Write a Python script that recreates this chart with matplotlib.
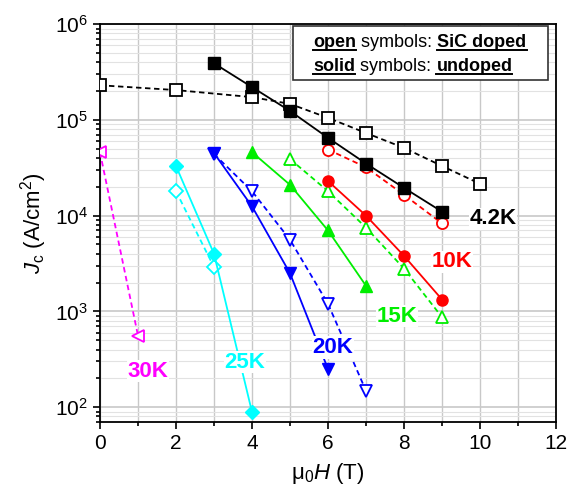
import numpy as np
import matplotlib
matplotlib.use("Agg")
from matplotlib import pyplot as plt
from matplotlib.patches import Rectangle
from matplotlib.ticker import MultipleLocator, LogLocator, NullFormatter

plt.rcParams['font.family'] = ['Liberation Sans', 'DejaVu Sans']
plt.rcParams['mathtext.fontset'] = 'custom'
plt.rcParams['mathtext.rm'] = 'Liberation Sans'
plt.rcParams['mathtext.it'] = 'Liberation Sans:italic'

# undoped (solid symbols)
h_42 = [3, 4, 5, 6, 7, 8, 9]
jc_42 = [3.9e5, 2.2e5, 1.24e5, 6.5e4, 3.5e4, 1.95e4, 1.1e4]
h_10 = [6, 7, 8, 9]
jc_10 = [2.3e4, 1.0e4, 3.8e3, 1.33e3]
h_15 = [4, 5, 6, 7]
jc_15 = [4.6e4, 2.1e4, 7.0e3, 1.85e3]
h_20 = [3, 4, 5, 6]
jc_20 = [4.5e4, 1.25e4, 2.5e3, 250]
h_25 = [2, 3, 4]
jc_25 = [3.3e4, 4.0e3, 89]

# SiC doped (open symbols)
h_42d = [0, 2, 4, 5, 6, 7, 8, 9, 10]
jc_42d = [2.3e5, 2.05e5, 1.73e5, 1.47e5, 1.05e5, 7.3e4, 5.1e4, 3.3e4, 2.15e4]
h_10d = [6, 7, 8, 9]
jc_10d = [4.9e4, 3.2e4, 1.65e4, 8.3e3]
h_15d = [5, 6, 7, 8, 9]
jc_15d = [3.9e4, 1.8e4, 7.5e3, 2.8e3, 870]
h_20d = [3, 4, 5, 6, 7]
jc_20d = [4.4e4, 1.8e4, 5.6e3, 1.2e3, 148]
h_25d = [2, 3]
jc_25d = [1.8e4, 2.9e3]
h_30d = [0, 1]
jc_30d = [4.6e4, 560]

labels = ['4.2K', '10K', '15K', '20K', '25K', '30K']
label_pos = [(10.34, 9.3e3), (9.26, 3.3e3), (7.82, 890), (6.13, 420), (3.82, 295), (1.26, 237)]
colors = ['black', 'red', '#00ee00', 'blue', 'cyan', 'magenta']

fig = plt.figure(figsize=(5.68, 4.93), dpi=100)
ax = fig.add_axes([0.176, 0.144, 0.803, 0.807])

dash = (0, (3, 2))
ms = 8
solid = [(h_42, jc_42, 's', 'black'), (h_10, jc_10, 'o', 'red'),
         (h_15, jc_15, '^', '#00ee00'), (h_20, jc_20, 'v', 'blue'),
         (h_25, jc_25, 'D', 'cyan')]
opened = [(h_42d, jc_42d, 's', 'black'), (h_10d, jc_10d, 'o', 'red'),
          (h_15d, jc_15d, '^', '#00ee00'), (h_20d, jc_20d, 'v', 'blue'),
          (h_25d, jc_25d, 'D', 'cyan'), (h_30d, jc_30d, '<', 'magenta')]

for h, jc, m, c in opened:
    ax.plot(h, jc, color=c, ls=dash, lw=1.3, marker=m, ms=ms if m != 'D' else 7,
            mfc='white', mec=c, mew=1.3, zorder=3)
for h, jc, m, c in solid:
    ax.plot(h, jc, color=c, ls='-', lw=1.3, marker=m, ms=ms if m != 'D' else 7,
            mfc=c, mec=c, zorder=4)

for lab, (x, y), c in zip(labels, label_pos, colors):
    ax.text(x, y, lab, color=c, fontsize=16, fontweight='bold', ha='center', va='center',
            zorder=5, bbox=dict(facecolor='white', edgecolor='none', pad=0.5))

ax.set_yscale('log')
ax.set_xlim(0, 12)
ax.set_ylim(70, 1e6)
ax.xaxis.set_major_locator(MultipleLocator(2))
ax.xaxis.set_minor_locator(MultipleLocator(1))
ax.yaxis.set_major_locator(LogLocator(base=10, numticks=10))
ax.yaxis.set_minor_locator(LogLocator(base=10, subs=np.arange(2, 10), numticks=20))
ax.yaxis.set_minor_formatter(NullFormatter())
ax.tick_params(which='both', direction='out', top=False, right=False, width=1.2)
ax.tick_params(which='major', length=5, labelsize=15)
ax.tick_params(which='minor', length=3)
ax.grid(True, which='major', axis='x', color='#c8c8c8', lw=1)
ax.grid(True, which='minor', axis='x', color='#c8c8c8', lw=1)
ax.grid(True, which='major', axis='y', color='#c8c8c8', lw=1.2)
ax.grid(True, which='minor', axis='y', color='#e2e2e2', lw=0.8)
ax.set_axisbelow(True)
for s in ax.spines.values():
    s.set_linewidth(1.3)

ax.set_xlabel('μ$_0$$\\mathit{H}$ (T)', fontsize=16, labelpad=6)
ax.set_ylabel(r'$\mathit{J}_{\rm c}$ (A/cm$^2$)', fontsize=16, labelpad=4)

# annotation box with underlined words
ax.add_patch(Rectangle((0.423, 0.859), 0.559, 0.136, transform=ax.transAxes,
                       facecolor='white', edgecolor='#333333', lw=1.2, zorder=6))

fig.canvas.draw()
renderer = fig.canvas.get_renderer()
inv = ax.transAxes.inverted()


def text_row(x, y, parts):
    for txt, bold, under in parts:
        t = ax.text(x, y, txt, transform=ax.transAxes, fontsize=13,
                    fontweight='bold' if bold else 'normal', va='center', ha='left', zorder=7)
        bb = t.get_window_extent(renderer)
        (x0, y0), (x1, y1) = inv.transform([[bb.x0, bb.y0], [bb.x1, bb.y1]])
        if under:
            ax.plot([x0, x1], [y0 + 0.004, y0 + 0.004], transform=ax.transAxes,
                    color='black', lw=1.4, zorder=7, clip_on=False)
        x = x1


text_row(0.468, 0.953, [('open', True, True), (' symbols: ', False, False), ('SiC doped', True, True)])
text_row(0.468, 0.893, [('solid', True, True), (' symbols: ', False, False), ('undoped', True, True)])

fig.savefig('out.png', dpi=100)
